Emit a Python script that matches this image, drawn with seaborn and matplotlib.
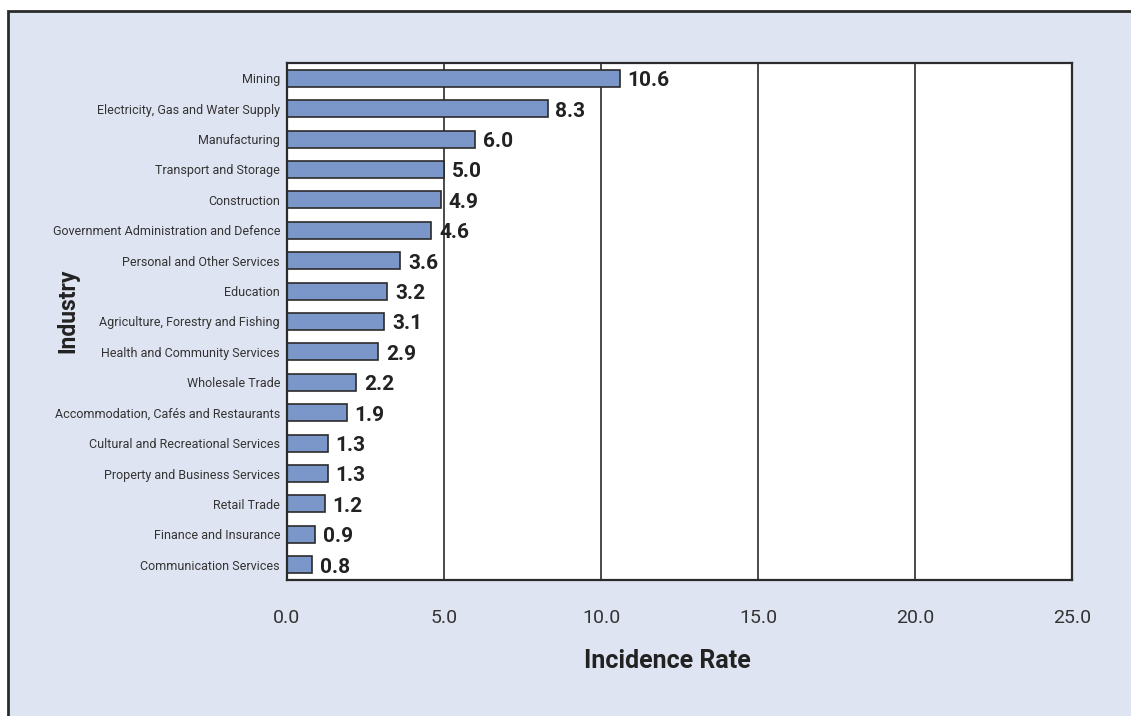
import matplotlib
matplotlib.use("Agg")
import matplotlib.pyplot as plt
import matplotlib.patches as patches
import numpy as np
import pandas as pd
import seaborn as sns

industries = [
    "Mining",
    "Electricity, Gas and Water Supply",
    "Manufacturing",
    "Transport and Storage",
    "Construction",
    "Government Administration and Defence",
    "Personal and Other Services",
    "Education",
    "Agriculture, Forestry and Fishing",
    "Health and Community Services",
    "Wholesale Trade",
    "Accommodation, Cafés and Restaurants",
    "Cultural and Recreational Services",
    "Property and Business Services",
    "Retail Trade",
    "Finance and Insurance",
    "Communication Services",
]
rates = [10.6, 8.3, 6.0, 5.0, 4.9, 4.6, 3.6, 3.2, 3.1, 2.9, 2.2, 1.9, 1.3, 1.3, 1.2, 0.9, 0.8]
x_ticks = [0, 5, 10, 15, 20, 25]

df = pd.DataFrame({"Industry": industries, "Rate": rates})

sns.set_style("white")
plt.rcParams["font.family"] = ["Roboto", "DejaVu Sans"]

bg = "#dfe4f2"
dark = "#2b2b2b"

fig = plt.figure(figsize=(11.31, 7.16), dpi=100, facecolor="white")
# light blue panel with a dark border on the left and top
frame = patches.Rectangle((8 / 1131, -0.1), 1.2, 1.1 - 11 / 716,
                          transform=fig.transFigure, facecolor=bg,
                          edgecolor=dark, linewidth=2, zorder=-10)
fig.patches.append(frame)

ax = fig.add_axes([287 / 1131, 1 - 580 / 716, 785 / 1131, 517 / 716])
ax.set_facecolor("white")

sns.barplot(data=df, x="Rate", y="Industry", orient="h", color="#7b96c8",
            edgecolor=dark, linewidth=1.2, width=0.56, saturation=1, ax=ax)

ax.set_xlim(0, 25)
ax.set_ylim(len(industries) - 0.5, -0.5)
ax.set_xticks(x_ticks)
ax.set_xticklabels([f"{t:.1f}" for t in x_ticks], fontsize=14, color="#333333")
ax.tick_params(axis="x", length=0, pad=21)
ax.tick_params(axis="y", length=0, labelsize=9, pad=5, labelcolor="#333333")
ax.set_yticks(np.arange(0.5, len(industries) - 1, 1), minor=True)
ax.tick_params(axis="y", which="minor", direction="in", length=3, width=1, color=dark)

for t in x_ticks[1:-1]:
    ax.axvline(t, color=dark, linewidth=1.2, zorder=0)

for i, v in enumerate(rates):
    ax.text(v + 0.25, i + 0.08, f"{v:.1f}", va="center", ha="left",
            fontsize=15, fontweight="bold", color="#222222")

for s in ax.spines.values():
    s.set_color(dark)
    s.set_linewidth(1.6)

ax.set_xlabel("Incidence Rate", fontsize=18, fontweight="bold", color="#222222")
ax.xaxis.set_label_coords(0.485, -0.157)
ax.set_ylabel("Industry", fontsize=16.5, fontweight="bold", color="#222222")
ax.yaxis.set_label_coords(-0.279, 0.52)
ax.xaxis.label.set_va("center")
ax.yaxis.label.set_va("center")

fig.savefig("out.png", dpi=100, facecolor="white")
